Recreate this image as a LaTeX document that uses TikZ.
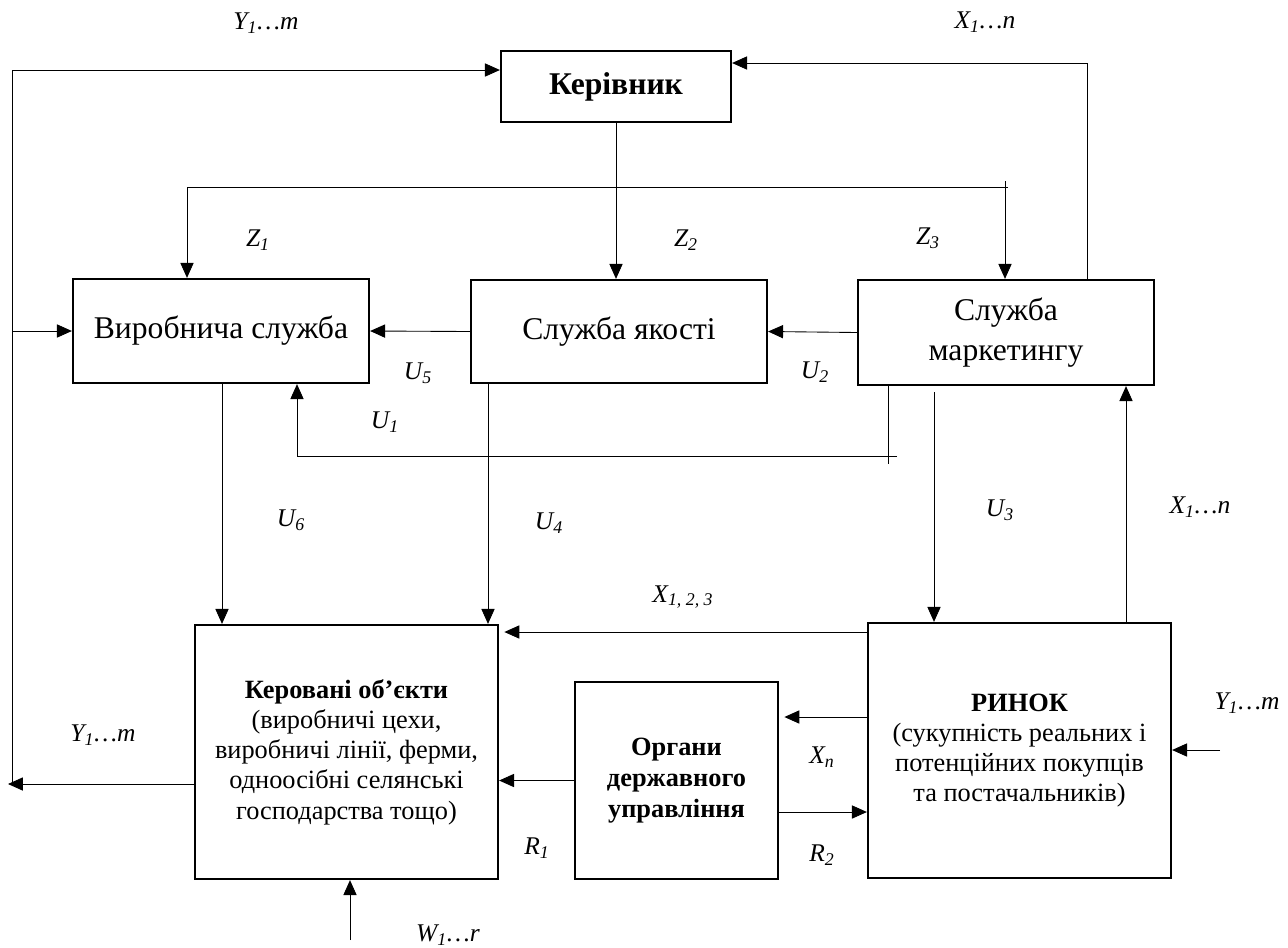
\documentclass[tikz,border=0pt]{standalone}
\usepackage{fontspec}
\setmainfont{Liberation Serif}
\usetikzlibrary{positioning, arrows.meta}

\tikzset{
    block/.style={draw, line width=1.3pt, align=center, inner sep=2pt},
    bigfont/.style={font=\fontsize{18}{23}\selectfont},
    smallfont/.style={font=\fontsize{15}{17.2}\selectfont},
    smallbold/.style={font=\fontsize{15}{17.6}\selectfont\bfseries},
    sig/.style={font=\fontsize{14.5}{17}\selectfont\itshape},
    arr/.style={-{Triangle[length=8.5pt, width=7.5pt]}, line width=0.5pt},
    link/.style={line width=0.5pt}
}

\begin{document}
\begin{tikzpicture}[x=0.02cm, y=-0.02cm]
    \useasboundingbox (0,0) rectangle (1288,947);

    % Boxes
    \node[block, bigfont, minimum width=4.6cm, minimum height=1.42cm] (kerivnyk) at (616,86.5) {\textbf{Керівник}};
    \node[block, bigfont, minimum width=5.92cm, minimum height=2.08cm] (vyrob) at (221,331) {Виробнича служба};
    \node[block, bigfont, minimum width=5.92cm, minimum height=2.06cm] (yakist) at (619,331.5) {Служба якості};
    \node[block, bigfont, minimum width=5.92cm, minimum height=2.1cm] (marketing) at (1006,332.5) {Служба\\маркетингу};
    \node[block, smallfont, minimum width=6.06cm, minimum height=5.08cm] (kerovani) at (346.5,752) {\textbf{Керовані об’єкти}\\(виробничі цехи,\\виробничі лінії, ферми,\\одноосібні селянські\\господарства тощо)};
    \node[block, smallbold, minimum width=4.06cm, minimum height=3.94cm] (organy) at (676.5,780.5) {Органи\\державного\\управління};
    \node[block, smallfont, minimum width=6.06cm, minimum height=5.1cm] (rynok) at (1019.5,750.5) {\textbf{РИНОК}\\(сукупність реальних і\\потенційних покупців\\та постачальників)};

    % Helper points
    \coordinate (ytop) at (12,70);
    \coordinate (ybot) at (8,784);
    \coordinate (xtop) at (1087,63);
    \coordinate (zl) at (187,187);
    \coordinate (zr) at (1005,187);
    \coordinate (u1r) at (897,456);
    \coordinate (u1l) at (297,456);
    \coordinate (u1v) at (888,464);
    \coordinate (u6) at (222,500);
    \coordinate (u4) at (488,500);
    \coordinate (u3) at (934,392);
    \coordinate (xr) at (1126,500);
    \coordinate (x123) at (700,632);
    \coordinate (xn) at (820,717);
    \coordinate (r2) at (820,812);
    \coordinate (yr) at (1220,750);
    \coordinate (w) at (350,940);

    % Feedback loop on the left
    \draw[arr] (kerovani.west |- ybot) -- (ybot);
    \draw[arr] (12,784) -- (ytop) -- (kerivnyk.west |- ytop);
    \draw[arr] (vyrob.west -| ytop) -- (vyrob.west);

    % Market info up to the head
    \draw[arr] (marketing.north -| xtop) -- (xtop) -- (kerivnyk.east |- xtop);

    % Orders from the head
    \draw[arr] (kerivnyk.south) -- (kerivnyk.south |- yakist.north);
    \draw[link] (zl) -- (1008,187);
    \draw[arr] (zl) -- (vyrob.north -| zl);
    \draw[arr] (1005,181) -- (marketing.north -| zr);

    % Links between services
    \draw[arr] (yakist.west) -- (vyrob.east);
    \draw[arr] (marketing.west) -- (yakist.east);
    \draw[link] (marketing.south -| u1v) -- (u1v);
    \draw[arr] (u1r) -- (u1l) -- (vyrob.south -| u1l);

    % Down to objects and market
    \draw[arr] (vyrob.south -| u6) -- (kerovani.north -| u6);
    \draw[arr] (yakist.south -| u4) -- (kerovani.north -| u4);
    \draw[arr] (u3) -- (rynok.north -| u3);
    \draw[arr] (rynok.north -| xr) -- (marketing.south -| xr);

    % Bottom row
    \draw[arr, shorten >=3pt] (rynok.west |- x123) -- (kerovani.east |- x123);
    \draw[arr, shorten >=3pt] (rynok.west |- xn) -- (organy.east |- xn);
    \draw[arr] (organy.east |- r2) -- (rynok.west |- r2);
    \draw[arr] (organy.west) -- (kerovani.east |- organy.west);
    \draw[arr] (yr) -- (rynok.east |- yr);
    \draw[arr] (w) -- (kerovani.south -| w);

    % Signal labels
    \node[sig] (lytop) at (266,23) {Y\textsubscript{1}\ldots m};
    \node[sig] (lxtop) at (985,22) {X\textsubscript{1}\ldots n};
    \node[sig] (lz1) at (258,240) {Z\textsubscript{1}};
    \node[sig] (lz2) at (686,240) {Z\textsubscript{2}};
    \node[sig] (lz3) at (928,238) {Z\textsubscript{3}};
    \node[sig] (lu5) at (418,373) {U\textsubscript{5}};
    \node[sig] (lu2) at (815,372) {U\textsubscript{2}};
    \node[sig] (lu1) at (385,422) {U\textsubscript{1}};
    \node[sig] (lu6) at (291,520) {U\textsubscript{6}};
    \node[sig] (lu4) at (549,523) {U\textsubscript{4}};
    \node[sig] (lu3) at (1000,510) {U\textsubscript{3}};
    \node[sig] (lxr) at (1200,507) {X\textsubscript{1}\ldots n};
    \node[sig] (lx123) at (683,597) {X\textsubscript{1, 2, 3}};
    \node[sig] (lyleft) at (103,735) {Y\textsubscript{1}\ldots m};
    \node[sig] (lxn) at (822,757) {X\textsubscript{n}};
    \node[sig] (lr2) at (822,855) {R\textsubscript{2}};
    \node[sig] (lr1) at (537,848) {R\textsubscript{1}};
    \node[sig] (lyright) at (1247,703) {Y\textsubscript{1}\ldots m};
    \node[sig] (lw) at (448,935) {W\textsubscript{1}\ldots r};
\end{tikzpicture}
\end{document}
